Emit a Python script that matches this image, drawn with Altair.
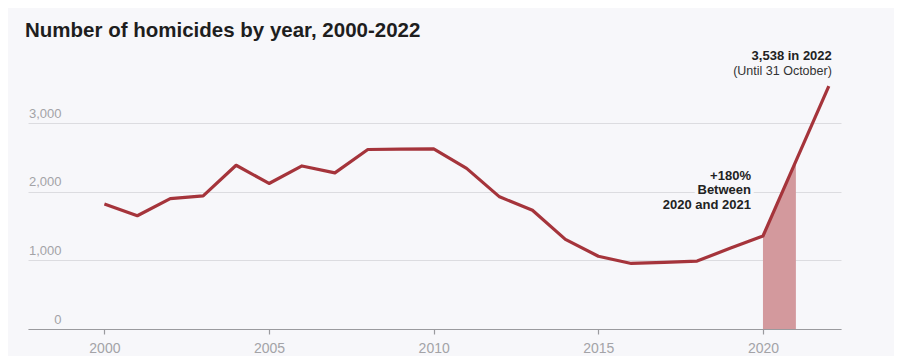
import altair as alt
import pandas as pd

FONT = "Liberation Sans"

years = list(range(2000, 2023))
homicides = [1820, 1650, 1900, 1940, 2385, 2120, 2375, 2275, 2615, 2620, 2625,
             2340, 1925, 1730, 1305, 1060, 955, 970, 990, 1175, 1355, 2445, 3538]
highlight_years = [2020, 2021]

x_ticks = [2000, 2005, 2010, 2015, 2020]
y_ticks = [0, 1000, 2000, 3000]

title_text = "Number of homicides by year, 2000-2022"
last_label = "3,538 in 2022"
last_note = "(Until 31 October)"
change_lines = ["+180%", "Between", "2020 and 2021"]

BG = "#f7f7fa"
LINE = "#a5343b"
FILL = "#d3999d"

df = pd.DataFrame({"year": years, "homicides": homicides})
df_hi = df[df["year"].isin(highlight_years)]
df_last = pd.DataFrame({"year": [years[-1]], "homicides": [homicides[-1]]})
df_change = pd.DataFrame({"year": [highlight_years[0]], "homicides": [2000],
                          "label": [change_lines]})

x = alt.X("year:Q",
          scale=alt.Scale(domain=[1997.68, 2022.37], nice=False, zero=False),
          axis=alt.Axis(values=x_ticks, format="d", title=None, grid=False,
                        domainColor="#9a9a9e", domainWidth=1.2,
                        tickColor="#9a9a9e", tickSize=5, tickWidth=1.2,
                        labelColor="#a3a3a7", labelFontSize=14, labelFont=FONT,
                        labelPadding=7))
y = alt.Y("homicides:Q",
          scale=alt.Scale(domain=[0, 3700], nice=False),
          axis=alt.Axis(values=y_ticks, format=",.0f", title=None, domain=False,
                        ticks=False, tickSize=0, labelPadding=-33,
                        labelAlign="right", labelBaseline="bottom",
                        labelOffset=-3,
                        gridColor="#dcdce0", gridWidth=1,
                        labelColor="#a3a3a7", labelFontSize=13, labelFont=FONT))

base = alt.Chart(df)

area = alt.Chart(df_hi).mark_area(color=FILL, opacity=1).encode(x=x, y=y)
line = base.mark_line(color=LINE, strokeWidth=3.2, strokeJoin="round").encode(x=x, y=y)

t1 = alt.Chart(df_last).mark_text(
    text=last_label, align="right", baseline="middle", dx=3, dy=-30,
    font=FONT, fontSize=13, fontWeight="bold", color="#222222"
).encode(x="year:Q", y="homicides:Q")
t2 = alt.Chart(df_last).mark_text(
    text=last_note, align="right", baseline="middle", dx=3, dy=-15,
    font=FONT, fontSize=12.5, color="#333333"
).encode(x="year:Q", y="homicides:Q")

halo = alt.Chart(df_change).mark_text(
    align="right", baseline="middle", dx=-12, dy=-16, lineHeight=14.5,
    font=FONT, fontSize=13, fontWeight="bold", stroke=BG, strokeWidth=7,
    color=BG
).encode(x="year:Q", y="homicides:Q", text="label")
t3 = alt.Chart(df_change).mark_text(
    align="right", baseline="middle", dx=-12, dy=-16, lineHeight=14.5,
    font=FONT, fontSize=13, fontWeight="bold", color="#222222"
).encode(x="year:Q", y="homicides:Q", text="label")

chart = alt.layer(area, line, halo, t3, t1, t2).properties(
    width=813, height=254,
    autosize=alt.AutoSizeParams(type="none"),
    padding={"left": 20, "top": 67, "right": 53, "bottom": 27},
    background=BG,
    title=alt.Title(title_text, anchor="start", frame="group", dx=-3,
                    fontSize=20.5, font=FONT, fontWeight="bold",
                    color="#1e1e1e", offset=9),
).configure_view(stroke=None)

chart.save("out.html", embed_options={"renderer": "svg", "actions": False})
